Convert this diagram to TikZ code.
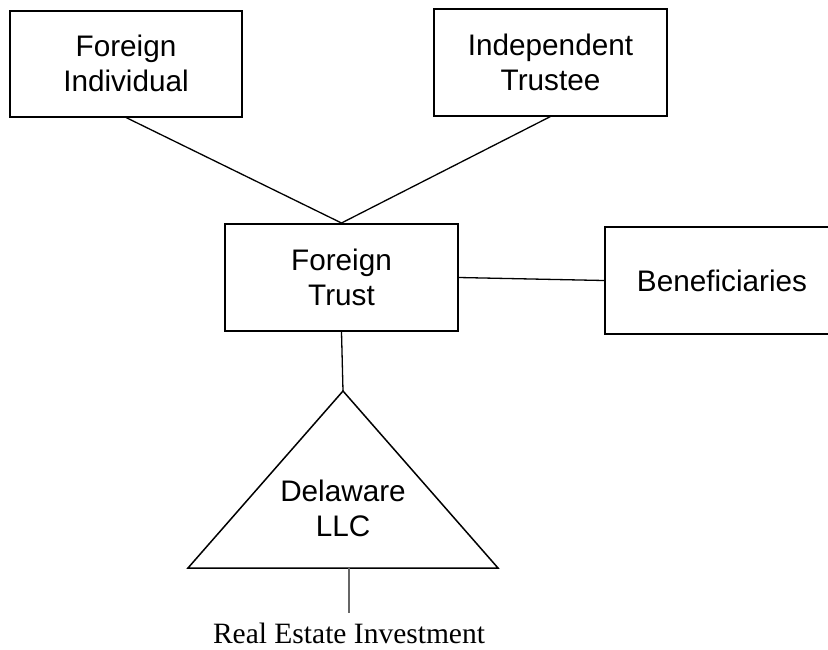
\documentclass[tikz,border=0pt]{standalone}
\usepackage{fontspec}
\setmainfont{Liberation Serif}
\newfontfamily\boxfont{Liberation Sans}
\begin{document}
\begin{tikzpicture}[x=1pt,y=-1pt,
  entity/.style={draw=black,line width=2pt,inner sep=0pt,align=center,
    font=\boxfont\fontsize{29.7}{35}\selectfont},
  link/.style={draw=black,line width=1.3pt},
  lbl/.style={inner sep=0pt,align=center,font=\boxfont\fontsize{29.7}{35}\selectfont}]
\clip (0,0) rectangle (828,649);
\fill[white] (0,0) rectangle (828,649);
\node[entity,minimum width=232pt,minimum height=106pt] (fi) at (126,63.5) {Foreign\\Individual};
\node[entity,minimum width=233pt,minimum height=107pt] (it) at (550.5,62) {Independent\\Trustee};
\node[entity,minimum width=233pt,minimum height=107pt] (ft) at (341.5,277.5) {Foreign\\Trust};
\node[entity,minimum width=234pt,minimum height=107pt] (ben) at (722,280.5) {Beneficiaries};
\coordinate (apex) at (343,391);
\coordinate (bl) at (188,568);
\coordinate (br) at (498,568);
\coordinate (bm) at (349,568);
\coordinate (rb) at (349,613);
\draw[black,line width=1.5pt,line join=miter] (apex) -- (bl) -- (br) -- cycle;
\node[lbl] (llc) at (343,508.5) {Delaware\\LLC};
\draw[link] (fi.south) -- (ft.north);
\draw[link] (it.south) -- (ft.north);
\draw[link] (ft.east) -- (ben.west);
\draw[link] (ft.south) -- (apex);
\draw[draw=black!60,line width=1.2pt] (bm) -- (rb);
\node[inner sep=0pt,anchor=base,font=\fontsize{29.5}{35}\selectfont] (rei) at (349,643) {Real Estate Investment};
\end{tikzpicture}
\end{document}
